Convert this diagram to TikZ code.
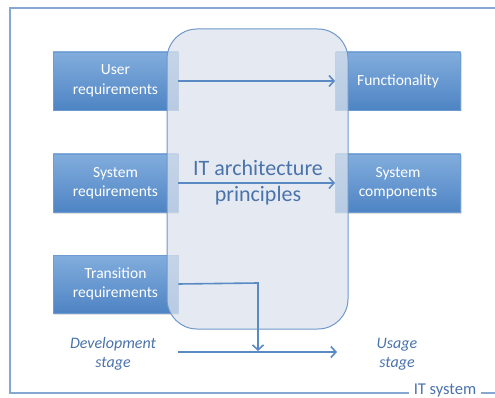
\documentclass[tikz,border=0pt]{standalone}
\usepackage{fontspec}
\setmainfont{Carlito}
\usetikzlibrary{arrows.meta,shadows}
\definecolor{boxtop}{HTML}{82ADDD}
\definecolor{boxbot}{HTML}{4E84C4}
\definecolor{boxline}{HTML}{6E9BD0}
\definecolor{linec}{HTML}{5A8AC3}
\definecolor{textc}{HTML}{4A73AC}
\definecolor{framec}{HTML}{86A8D2}
\definecolor{midfill}{HTML}{DCE3ED}
\definecolor{midline}{HTML}{6F97C9}
\tikzset{
  reqbox/.style={draw=boxline, line width=0.8pt, top color=boxtop, bottom color=boxbot,
    minimum width=125pt, minimum height=58pt, text=white, align=center,
    font=\fontsize{15.5}{19.5}\selectfont, inner sep=0pt,
    drop shadow={shadow xshift=1pt, shadow yshift=-1.5pt, opacity=0.25}},
  conn/.style={draw=linec, line width=1.6pt, -{Straight Barb[length=5pt,width=11pt,line width=1.6pt]}},
  stagetext/.style={text=textc, align=center, font=\itshape\fontsize{16}{19.5}\selectfont},
}
\begin{document}
\begin{tikzpicture}[x=1pt,y=-1pt]
\useasboundingbox (0,0) rectangle (495,398);
% frame
\draw[framec, line width=1.2pt] (520,8) -- (10,8) -- (10,393) -- (520,393);
\node[fill=white, text=textc, font=\fontsize{16.5}{18}\selectfont, inner xsep=5pt, inner ysep=0.5pt, anchor=base] (its) at (445,394.5) {IT system};
% boxes
\node[reqbox] (user) at (115.5,81) {User\\requirements};
\node[reqbox] (sysreq) at (115.5,183) {System\\requirements};
\node[reqbox] (trans) at (115.5,284) {Transition\\requirements};
\node[reqbox] (func) at (398,81) {Functionality};
\node[reqbox] (comp) at (398,183) {System\\components};
% central rounded box
\node[draw=midline, line width=1pt, fill=midfill, fill opacity=0.75, rounded corners=30pt,
  minimum width=181pt, minimum height=300pt] (mid) at (257.5,179) {};
\node[text=textc, align=center, font=\fontsize{22}{26}\selectfont] (itap) at (258,183) {IT architecture\\principles};
% stages
\node[stagetext] (dev) at (113,354) {Development\\stage};
\node[stagetext] (usage) at (397,354) {Usage\\stage};
\coordinate (tr) at (258,283);
\coordinate (tl) at (258,351);
\coordinate (hb) at (337,352);
% connectors
\draw[conn] (user.east) -- (func.west);
\draw[conn] (sysreq.east) -- (comp.west);
\draw[conn] (hb -| user.east) -- (hb);
\draw[conn] (trans.east) -- (tr) -- (tl);
\end{tikzpicture}
\end{document}
